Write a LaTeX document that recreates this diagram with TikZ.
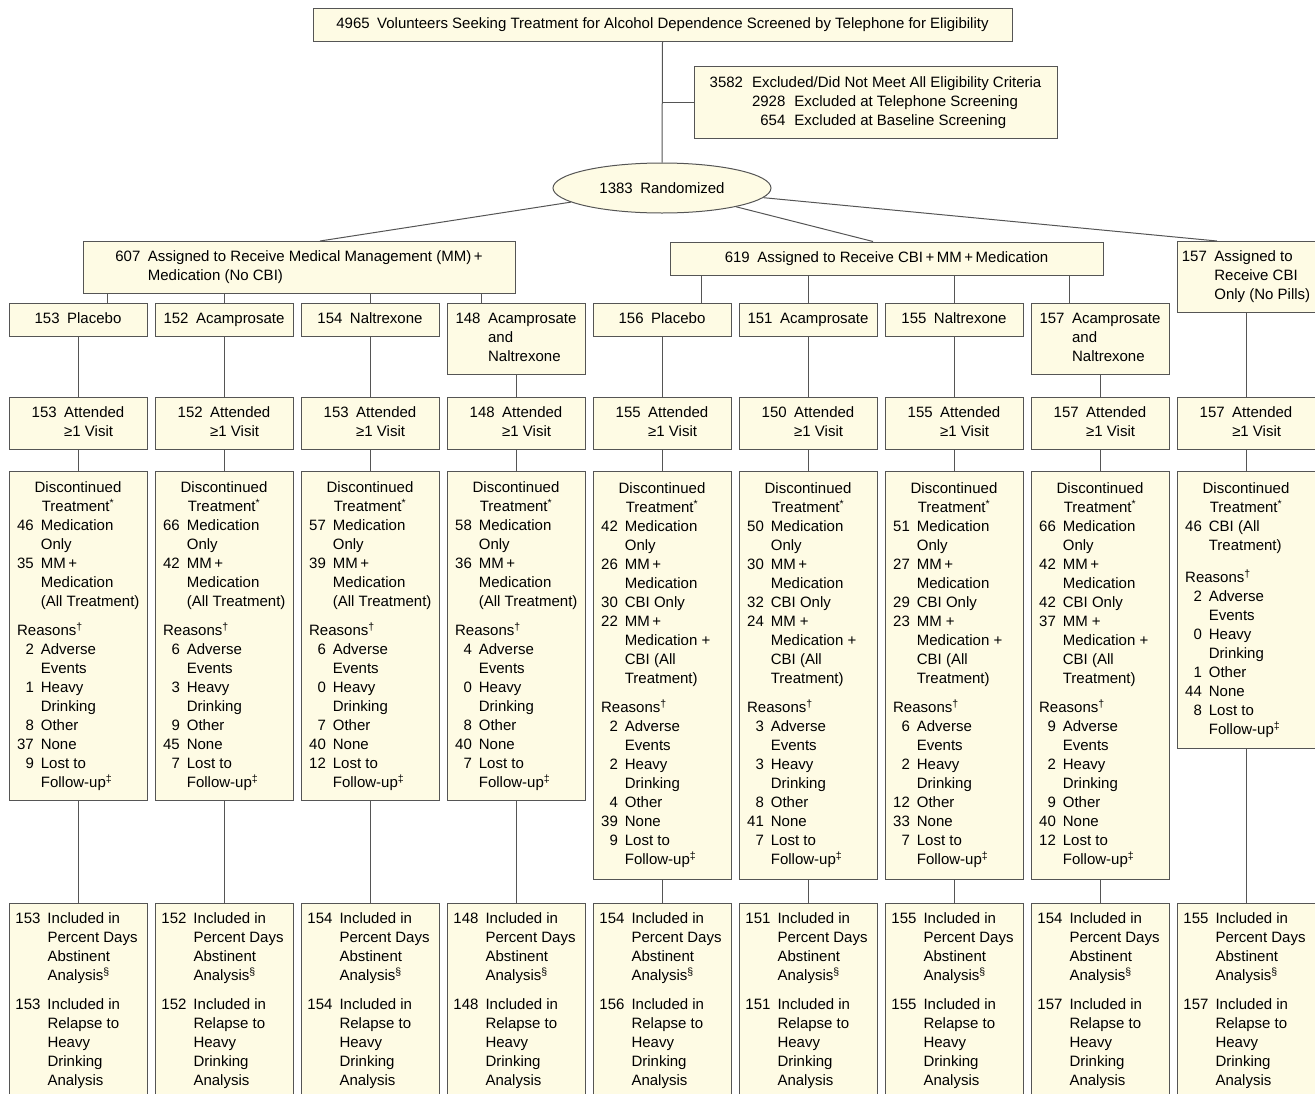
\documentclass[tikz,border=0pt]{standalone}
\usepackage{fontspec}
\setmainfont{Liberation Sans}
\usetikzlibrary{shapes.geometric}
\usetikzlibrary{calc}

\definecolor{boxfill}{RGB}{254,251,228}
\definecolor{linegray}{RGB}{85,85,85}

\newcommand{\plainrow}[1]{\begin{tabular}{@{}l@{}}#1\end{tabular}}
\newcommand{\hangrow}[1]{\begin{tabular}{@{}r@{\enspace}l@{}}#1\end{tabular}}
\newcommand{\attbox}[1]{\hangrow{#1 & Attended\\ & ≥1 Visit}}
\newcommand{\reasons}{\multicolumn{2}{@{}l@{}}{Reasons\textsuperscript{†}}}
\newcommand{\alltreat}{\mbox{(All Treatment)}}
\newcommand{\discbox}[1]{\begin{tabular}{@{}r@{\hspace{7pt}}p{98pt}@{}}
  \multicolumn{2}{@{}c@{}}{Discontinued}\\
  \multicolumn{2}{@{}c@{}}{Treatment\textsuperscript{*}}\\
  #1\end{tabular}}
\newcommand{\inclbox}[2]{\begin{tabular}{@{}r@{\hspace{7pt}}p{93pt}@{}}
  #1 & Included in\\ & Percent Days\\ & Abstinent\\ & Analysis\textsuperscript{§}\\[10pt]
  #2 & Included in\\ & Relapse to\\ & Heavy\\ & Drinking\\ & Analysis\end{tabular}}

\tikzset{
  box/.style={draw=linegray, fill=boxfill, line width=1pt, inner xsep=3pt, inner ysep=7pt,
    font=\fontsize{15}{19}\selectfont},
  col/.style={box, anchor=north, minimum width=138pt},
  oval/.style={box, ellipse, minimum width=218pt, minimum height=50pt, inner sep=0pt},
  link/.style={draw=linegray, line width=1pt}
}

\begin{document}
\begin{tikzpicture}[x=1pt,y=-1pt]
\useasboundingbox (0,0) rectangle (1315,1093);

% screening and randomization
\node[box, minimum width=699pt] (screen) at (662.5,24.5)
  {\plainrow{4965\enspace Volunteers Seeking Treatment for Alcohol Dependence Screened by Telephone for Eligibility}};
\node[box, minimum width=363pt, minimum height=72pt] (excl) at (875.5,102.5)
  {\begin{tabular}{@{}r@{\hspace{9pt}}r@{\hspace{9pt}}l@{}}
   3582 & \multicolumn{2}{@{}l@{}}{Excluded/Did Not Meet All Eligibility Criteria}\\
        & 2928 & Excluded at Telephone Screening\\
        & 654 & Excluded at Baseline Screening
   \end{tabular}};
\node[oval] (rand) at (662,188) {1383\enspace Randomized};

% arms
\node[box, minimum width=432pt] (mm) at (299,267.5)
  {\hangrow{607 & Assigned to Receive Medical Management (MM)\,+\\ & Medication (No CBI)}};
\node[box, minimum width=433pt] (cbimm) at (886.5,258.5)
  {\plainrow{619\enspace Assigned to Receive CBI\,+\,MM\,+\,Medication}};
\node[box, minimum width=138pt] (cbi) at (1246,277)
  {\hangrow{157 & Assigned to\\ & Receive CBI\\ & Only (No Pills)}};

% medication groups
\node[col] (t1) at (78,303) {\plainrow{153\enspace Placebo}};
\node[col] (t2) at (224,303) {\plainrow{152\enspace Acamprosate}};
\node[col] (t3) at (370,303) {\plainrow{154\enspace Naltrexone}};
\node[col] (t4) at (516,303) {\hangrow{148 & Acamprosate\\ & and\\ & Naltrexone}};
\node[col] (t5) at (662,303) {\plainrow{156\enspace Placebo}};
\node[col] (t6) at (808,303) {\plainrow{151\enspace Acamprosate}};
\node[col] (t7) at (954,303) {\plainrow{155\enspace Naltrexone}};
\node[col] (t8) at (1100,303) {\hangrow{157 & Acamprosate\\ & and\\ & Naltrexone}};

% attended
\node[col] (a1) at (78,397) {\attbox{153}};
\node[col] (a2) at (224,397) {\attbox{152}};
\node[col] (a3) at (370,397) {\attbox{153}};
\node[col] (a4) at (516,397) {\attbox{148}};
\node[col] (a5) at (662,397) {\attbox{155}};
\node[col] (a6) at (808,397) {\attbox{150}};
\node[col] (a7) at (954,397) {\attbox{155}};
\node[col] (a8) at (1100,397) {\attbox{157}};
\node[col] (a9) at (1246,397) {\attbox{157}};

% discontinued
\node[col, minimum height=329pt] (d1) at (78,471) {\discbox{
  46 & Medication\\ & Only\\
  35 & MM\,+\\ & Medication\\ & \alltreat\\[10pt]
  \reasons\\
  2 & Adverse\\ & Events\\
  1 & Heavy\\ & Drinking\\
  8 & Other\\
  37 & None\\
  9 & Lost to\\ & Follow-up\textsuperscript{‡}}};
\node[col, minimum height=329pt] (d2) at (224,471) {\discbox{
  66 & Medication\\ & Only\\
  42 & MM\,+\\ & Medication\\ & \alltreat\\[10pt]
  \reasons\\
  6 & Adverse\\ & Events\\
  3 & Heavy\\ & Drinking\\
  9 & Other\\
  45 & None\\
  7 & Lost to\\ & Follow-up\textsuperscript{‡}}};
\node[col, minimum height=329pt] (d3) at (370,471) {\discbox{
  57 & Medication\\ & Only\\
  39 & MM\,+\\ & Medication\\ & \alltreat\\[10pt]
  \reasons\\
  6 & Adverse\\ & Events\\
  0 & Heavy\\ & Drinking\\
  7 & Other\\
  40 & None\\
  12 & Lost to\\ & Follow-up\textsuperscript{‡}}};
\node[col, minimum height=329pt] (d4) at (516,471) {\discbox{
  58 & Medication\\ & Only\\
  36 & MM\,+\\ & Medication\\ & \alltreat\\[10pt]
  \reasons\\
  4 & Adverse\\ & Events\\
  0 & Heavy\\ & Drinking\\
  8 & Other\\
  40 & None\\
  7 & Lost to\\ & Follow-up\textsuperscript{‡}}};
\node[col, minimum height=408pt] (d5) at (662,471) {\discbox{
  42 & Medication\\ & Only\\
  26 & MM\,+\\ & Medication\\
  30 & CBI Only\\
  22 & MM\,+\\ & Medication +\\ & CBI (All\\ & Treatment)\\[10pt]
  \reasons\\
  2 & Adverse\\ & Events\\
  2 & Heavy\\ & Drinking\\
  4 & Other\\
  39 & None\\
  9 & Lost to\\ & Follow-up\textsuperscript{‡}}};
\node[col, minimum height=408pt] (d6) at (808,471) {\discbox{
  50 & Medication\\ & Only\\
  30 & MM\,+\\ & Medication\\
  32 & CBI Only\\
  24 & MM +\\ & Medication +\\ & CBI (All\\ & Treatment)\\[10pt]
  \reasons\\
  3 & Adverse\\ & Events\\
  3 & Heavy\\ & Drinking\\
  8 & Other\\
  41 & None\\
  7 & Lost to\\ & Follow-up\textsuperscript{‡}}};
\node[col, minimum height=408pt] (d7) at (954,471) {\discbox{
  51 & Medication\\ & Only\\
  27 & MM\,+\\ & Medication\\
  29 & CBI Only\\
  23 & MM +\\ & Medication +\\ & CBI (All\\ & Treatment)\\[10pt]
  \reasons\\
  6 & Adverse\\ & Events\\
  2 & Heavy\\ & Drinking\\
  12 & Other\\
  33 & None\\
  7 & Lost to\\ & Follow-up\textsuperscript{‡}}};
\node[col, minimum height=408pt] (d8) at (1100,471) {\discbox{
  66 & Medication\\ & Only\\
  42 & MM\,+\\ & Medication\\
  42 & CBI Only\\
  37 & MM +\\ & Medication +\\ & CBI (All\\ & Treatment)\\[10pt]
  \reasons\\
  9 & Adverse\\ & Events\\
  2 & Heavy\\ & Drinking\\
  9 & Other\\
  40 & None\\
  12 & Lost to\\ & Follow-up\textsuperscript{‡}}};
\node[col, minimum height=277pt] (d9) at (1246,471) {\discbox{
  46 & CBI (All\\ & Treatment)\\[13pt]
  \reasons\\
  2 & Adverse\\ & Events\\
  0 & Heavy\\ & Drinking\\
  1 & Other\\
  44 & None\\
  8 & Lost to\\ & Follow-up\textsuperscript{‡}}};

% analysed
\node[col] (b1) at (78,903) {\inclbox{153}{153}};
\node[col] (b2) at (224,903) {\inclbox{152}{152}};
\node[col] (b3) at (370,903) {\inclbox{154}{154}};
\node[col] (b4) at (516,903) {\inclbox{148}{148}};
\node[col] (b5) at (662,903) {\inclbox{154}{156}};
\node[col] (b6) at (808,903) {\inclbox{151}{151}};
\node[col] (b7) at (954,903) {\inclbox{155}{155}};
\node[col] (b8) at (1100,903) {\inclbox{154}{157}};
\node[col] (b9) at (1246,903) {\inclbox{155}{157}};

% connectors
\draw[link] (screen.south) -- (rand.north);
\draw[link] (excl.west) -- (excl.west -| rand.north);
\draw[link] (rand) -- ($(mm.north)+(21,0)$);
\draw[link] (rand) -- ($(cbimm.north)+(-13.5,0)$);
\draw[link] (rand) -- ($(cbi.north)+(-29,0)$);

\coordinate (s1) at ($(t1.north)+(29,0)$);
\coordinate (s4) at ($(t4.north)+(-35,0)$);
\coordinate (s5) at ($(t5.north)+(39,0)$);
\coordinate (s8) at ($(t8.north)+(-31,0)$);
\draw[link] (s1) -- (s1 |- mm.south);
\draw[link] (t2) -- (t2 |- mm.south);
\draw[link] (t3) -- (t3 |- mm.south);
\draw[link] (s4) -- (s4 |- mm.south);
\draw[link] (s5) -- (s5 |- cbimm.south);
\draw[link] (t6) -- (t6 |- cbimm.south);
\draw[link] (t7) -- (t7 |- cbimm.south);
\draw[link] (s8) -- (s8 |- cbimm.south);

\draw[link] (t1) -- (a1) (a1) -- (d1) (d1) -- (b1);
\draw[link] (t2) -- (a2) (a2) -- (d2) (d2) -- (b2);
\draw[link] (t3) -- (a3) (a3) -- (d3) (d3) -- (b3);
\draw[link] (t4) -- (a4) (a4) -- (d4) (d4) -- (b4);
\draw[link] (t5) -- (a5) (a5) -- (d5) (d5) -- (b5);
\draw[link] (t6) -- (a6) (a6) -- (d6) (d6) -- (b6);
\draw[link] (t7) -- (a7) (a7) -- (d7) (d7) -- (b7);
\draw[link] (t8) -- (a8) (a8) -- (d8) (d8) -- (b8);
\draw[link] (cbi) -- (a9) (a9) -- (d9) (d9) -- (b9);
\end{tikzpicture}
\end{document}
